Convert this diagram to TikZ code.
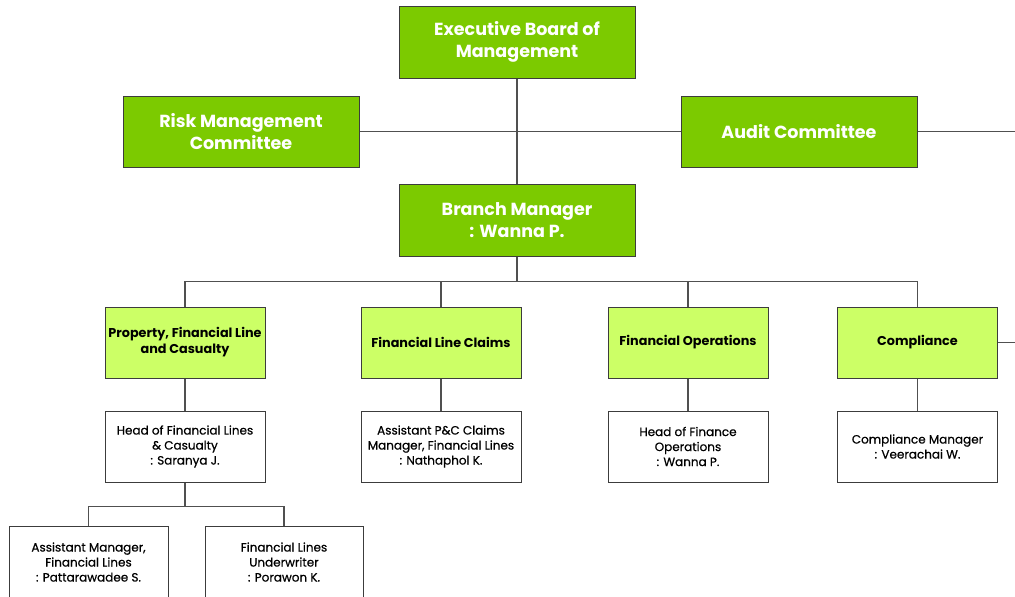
\documentclass[tikz,border=0pt]{standalone}
\usepackage{fontspec}
\setmainfont{Poppins}
\newfontfamily\medfont[FakeBold=0.6]{Poppins}
\definecolor{dgreen}{RGB}{124,202,0}
\definecolor{lgreen}{RGB}{204,255,102}
\definecolor{edge}{RGB}{60,60,60}
\definecolor{wire}{RGB}{80,80,80}
\tikzset{
  topbox/.style={draw=edge, line width=1pt, fill=dgreen, minimum width=236pt, minimum height=72pt, inner sep=0pt, text=white, font=\fontsize{17.5}{22}\selectfont\bfseries, align=center},
  midbox/.style={draw=edge, line width=1pt, fill=lgreen, minimum width=160pt, minimum height=71pt, inner sep=0pt, text=black, font=\fontsize{12.8}{16}\selectfont\bfseries, align=center},
  lowbox/.style={draw=edge, line width=1pt, fill=white, minimum width=160pt, minimum height=71pt, inner sep=0pt, text=black, font=\medfont\fontsize{12}{15}\selectfont, align=center},
  wireline/.style={draw=wire, line width=1.2pt}
}
\begin{document}
\begin{tikzpicture}[x=1pt,y=-1pt]
\useasboundingbox (0,0) rectangle (1015,597);
\begin{scope}
\clip (0,0) rectangle (1015,597);
% top level
\node[topbox] (exec) at (517,42) {Executive Board of\\Management};
\node[topbox, minimum height=71pt] (risk) at (241,131.5) {Risk Management\\Committee};
\node[topbox, minimum height=71pt] (audit) at (799,131.5) {Audit Committee};
\node[topbox] (branch) at (517,220) {Branch Manager\\: Wanna P.};
\coordinate (auditout) at (1015,131.5);
% level 2
\node[midbox] (prop) at (185,342.5) {Property, Financial Line\\and Casualty};
\node[midbox] (claims) at (441,342.5) {Financial Line Claims};
\node[midbox] (fops) at (688,342.5) {Financial Operations};
\node[midbox] (comp) at (917.5,342.5) {Compliance};
\coordinate (compout) at (1015,342.5);
% level 3
\node[lowbox] (headfl) at (185,446.5) {Head of Financial Lines\\\& Casualty\\: Saranya J.};
\node[lowbox] (asspc) at (441,446.5) {Assistant P\&C Claims\\Manager, Financial Lines\\: Nathaphol K.};
\node[lowbox] (headfo) at (688,446.5) {Head of Finance\\Operations\\: Wanna P.};
\node[lowbox] (compmgr) at (917.5,446.5) {Compliance Manager\\: Veerachai W.};
% level 4
\node[lowbox, minimum width=159pt, minimum height=72pt] (assmgr) at (88.5,562) {Assistant Manager,\\Financial Lines\\: Pattarawadee S.};
\node[lowbox, minimum width=158pt, minimum height=72pt] (uw) at (284,562) {Financial Lines\\Underwriter\\: Porawon K.};
% connectors
\draw[wireline] (exec.south) -- (branch.north);
\draw[wireline] (risk.east) -- (audit.west);
\draw[wireline] (audit.east) -- (auditout);
\draw[wireline] (branch.south) -- ++(0,25) -| (prop.north);
\draw[wireline] (branch.south) -- ++(0,25) -| (claims.north);
\draw[wireline] (branch.south) -- ++(0,25) -| (fops.north);
\draw[wireline] (branch.south) -- ++(0,25) -| (comp.north);
\draw[wireline] (comp.east) -- (compout);
\draw[wireline] (prop.south) -- (headfl.north);
\draw[wireline] (claims.south) -- (asspc.north);
\draw[wireline] (fops.south) -- (headfo.north);
\draw[wireline] (comp.south) -- (compmgr.north);
\draw[wireline] (headfl.south) -- ++(0,24) -| (assmgr.north);
\draw[wireline] (headfl.south) -- ++(0,24) -| (uw.north);
\end{scope}
\end{tikzpicture}
\end{document}
